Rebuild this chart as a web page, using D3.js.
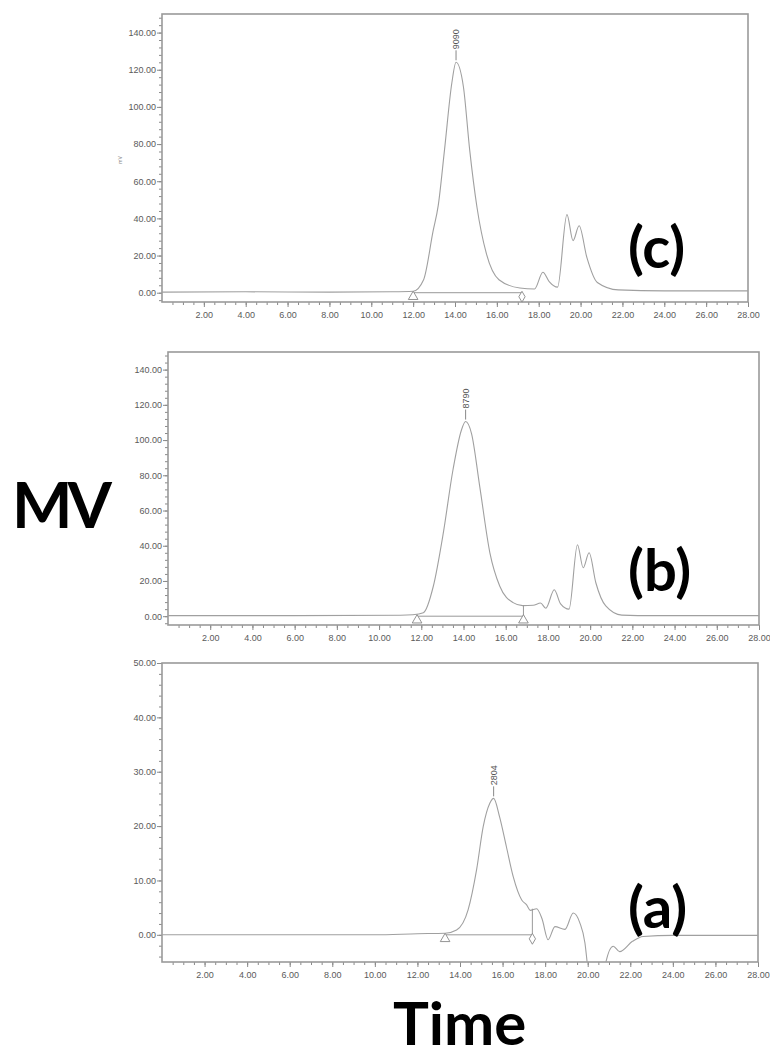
<!DOCTYPE html>
<html>
<head>
<meta charset="utf-8">
<script src="https://cdn.jsdelivr.net/npm/d3@7"></script>
<style>
  body { margin: 0; background: #fff; }
  svg { display: block; }
  .tick text { font-family: "Liberation Sans", Arial, sans-serif; font-size: 9px; fill: #5a5a5a; }
  .tick line { stroke: #8a8a8a; }
  .big { font-family: Lato, "Open Sans", sans-serif; font-weight: 700; fill: #000; }
</style>
</head>
<body>
<svg id="chart" width="770" height="1059"></svg>
<script>
// ── Data: [time (min), signal (mV)] ──
const seriesC = [
  [0, 0.3], [4, 0.5], [8, 0.3], [11, 0.5], [12, 0.8], [12.5, 7], [12.95, 33], [13.2, 47],
  [13.5, 77], [13.85, 113], [14.05, 124], [14.4, 111], [14.7, 77], [15.05, 46], [15.5, 21],
  [16.1, 7], [17.1, 2.5], [17.8, 2], [18.2, 11], [18.5, 6], [18.9, 3], [19.35, 42],
  [19.64, 28], [19.93, 36], [20.3, 19], [20.8, 5.5], [21.8, 1.5], [24, 1], [28, 1]
];
const seriesB = [
  [0, 0.3], [6, 0.3], [11, 0.5], [11.6, 0.8], [12.1, 2], [12.57, 17], [13.04, 47], [13.5, 83],
  [13.9, 105.6], [14.1, 110.5], [14.38, 103.7], [14.77, 73.6], [15.25, 36], [15.72, 17],
  [16.35, 7.7], [16.8, 6], [17.3, 6.2], [17.65, 7.5], [17.9, 4.5], [18.3, 15], [18.6, 7],
  [19.0, 4], [19.4, 40.6], [19.67, 27.5], [19.95, 36], [20.27, 19], [20.74, 5.8],
  [21.5, 0.6], [23, 0.3], [28, 0.3]
];
const seriesA = [
  [0, 0], [10, 0], [12, 0.2], [13.3, 0.3], [13.84, 0.9], [14.38, 4.6], [14.78, 12],
  [15.09, 19.9], [15.4, 24.2], [15.58, 25.1], [15.86, 21.7], [16.18, 16.2], [16.5, 10.7],
  [16.9, 6.4], [17.13, 5.5], [17.3, 4.5], [17.6, 4.8], [17.85, 3], [18.14, -0.9],
  [18.46, 1.5], [18.93, 1.0], [19.32, 4.0], [19.63, 2.2], [19.87, -1.5], [20.0, -6],
  [20.2, -12], [20.6, -12], [20.8, -6], [21.2, -2.1], [21.5, -3.1], [22.1, -1.2],
  [22.6, -0.3], [24, -0.1], [28, -0.1]
];

const timeTicks = d3.range(2, 29, 2);
const timeMinor = d3.range(0.5, 28, 0.5);

const panelNames = ['(c)', '(b)', '(a)'];
const peakLabels = ['9090', '8790', '2804'];
const peakTimes = [14.05, 14.1, 15.58];
const integStart = [12.0, 11.8, 13.3];
const integEnd = [17.2, 16.84, 17.4];
const endMarker = ['diamond', 'triangle', 'diamond'];
const dropLine = [false, true, true];
const yMaxes = [150, 150, 50];
const yMajorStep = [20, 20, 10];
const yMinorStep = [4, 4, 2];

// panel boxes in pixels: [left, top, right, bottom]
const boxes = [
  [162, 14, 748, 302],
  [168, 352, 759, 625],
  [162, 663, 758, 962]
];
const allSeries = [seriesC, seriesB, seriesA];

const svg = d3.select('#chart');
const fmt = d3.format('.2f');

allSeries.forEach((series, i) => {
  const [l, t, r, b] = boxes[i];
  const x = d3.scaleLinear().domain([0, 28]).range([l, r]);
  const y = d3.scaleLinear().domain([-5, yMaxes[i]]).range([b, t]);
  const g = svg.append('g');

  g.append('clipPath').attr('id', 'clip' + i)
    .append('rect').attr('x', l).attr('y', t).attr('width', r - l).attr('height', b - t);

  // axes — minor ticks first, then labelled majors
  const yMajor = d3.range(0, yMaxes[i] - 1, yMajorStep[i]).concat(yMaxes[i] === 50 ? [50] : []);
  const yMinor = d3.range(-4, yMaxes[i] + 0.01, yMinorStep[i]);

  g.append('g').attr('transform', `translate(${l},0)`)
    .call(d3.axisLeft(y).tickValues(yMinor).tickSize(3).tickFormat(''))
    .call(s => s.select('.domain').remove());
  g.append('g').attr('transform', `translate(${l},0)`)
    .call(d3.axisLeft(y).tickValues(yMajor).tickSize(5).tickPadding(1).tickFormat(fmt))
    .call(s => s.select('.domain').remove());

  g.append('g').attr('transform', `translate(0,${b})`)
    .call(d3.axisBottom(x).tickValues(timeMinor).tickSize(3).tickFormat(''))
    .call(s => s.select('.domain').remove());
  g.append('g').attr('transform', `translate(0,${b})`)
    .call(d3.axisBottom(x).tickValues(timeTicks).tickSize(5).tickPadding(5).tickFormat(fmt))
    .call(s => s.select('.domain').remove());

  // frame
  g.append('rect')
    .attr('x', l).attr('y', t).attr('width', r - l).attr('height', b - t)
    .attr('fill', 'none').attr('stroke', '#9a9a9a').attr('stroke-width', 1.6);

  const plot = g.append('g').attr('clip-path', `url(#clip${i})`);

  // integration baseline
  plot.append('line')
    .attr('x1', x(integStart[i])).attr('x2', x(integEnd[i]))
    .attr('y1', y(0)).attr('y2', y(0))
    .attr('stroke', '#999').attr('stroke-width', 1);

  // chromatogram trace
  plot.append('path')
    .datum(series)
    .attr('fill', 'none')
    .attr('stroke', '#a0a0a0')
    .attr('stroke-width', 1.1)
    .attr('d', d3.line().x(d => x(d[0])).y(d => y(d[1])).curve(d3.curveMonotoneX));

  // drop line at peak end
  if (dropLine[i]) {
    const v = series.find(d => d[0] >= integEnd[i])[1];
    plot.append('line')
      .attr('x1', x(integEnd[i])).attr('x2', x(integEnd[i]))
      .attr('y1', y(v)).attr('y2', y(0) + 4)
      .attr('stroke', '#999');
  }

  // integration markers
  const markerAt = (tm, kind) => {
    const sym = kind === 'diamond' ? d3.symbolDiamond : d3.symbolTriangle;
    g.append('path')
      .attr('d', d3.symbol().type(sym).size(kind === 'diamond' ? 34 : 40)())
      .attr('transform', `translate(${x(tm)},${y(0) + 4})`)
      .attr('fill', '#fff').attr('stroke', '#888').attr('stroke-width', 0.9);
  };
  markerAt(integStart[i], 'triangle');
  markerAt(integEnd[i], endMarker[i]);

  // peak label
  const pk = series.find(d => d[0] === peakTimes[i]);
  const px = x(pk[0]), py = y(pk[1]);
  g.append('line')
    .attr('x1', px).attr('x2', px).attr('y1', py - 2).attr('y2', py - 12)
    .attr('stroke', '#888');
  g.append('text')
    .attr('transform', `translate(${px + 3},${py - 13}) rotate(-90)`)
    .attr('font-family', '"Liberation Sans", Arial, sans-serif')
    .attr('font-size', 9).attr('fill', '#555')
    .text(peakLabels[i]);

  // panel letter
  g.append('text').attr('class', 'big')
    .attr('x', 628).attr('y', b - 34)
    .attr('font-size', 58)
    .text(panelNames[i]);
});

// tiny axis title in top panel
svg.append('text')
  .attr('transform', 'translate(122,160) rotate(-90)')
  .attr('text-anchor', 'middle')
  .attr('font-family', '"Liberation Sans", Arial, sans-serif')
  .attr('font-size', 5).attr('fill', '#888')
  .text('mV');

svg.append('text').attr('class', 'big')
  .attr('x', 12).attr('y', 528)
  .attr('font-size', 64)
  .attr('textLength', 100)
  .text('MV');

svg.append('text').attr('class', 'big')
  .attr('x', 393).attr('y', 1045)
  .attr('font-size', 60)
  .text('Time');
</script>
</body>
</html>
